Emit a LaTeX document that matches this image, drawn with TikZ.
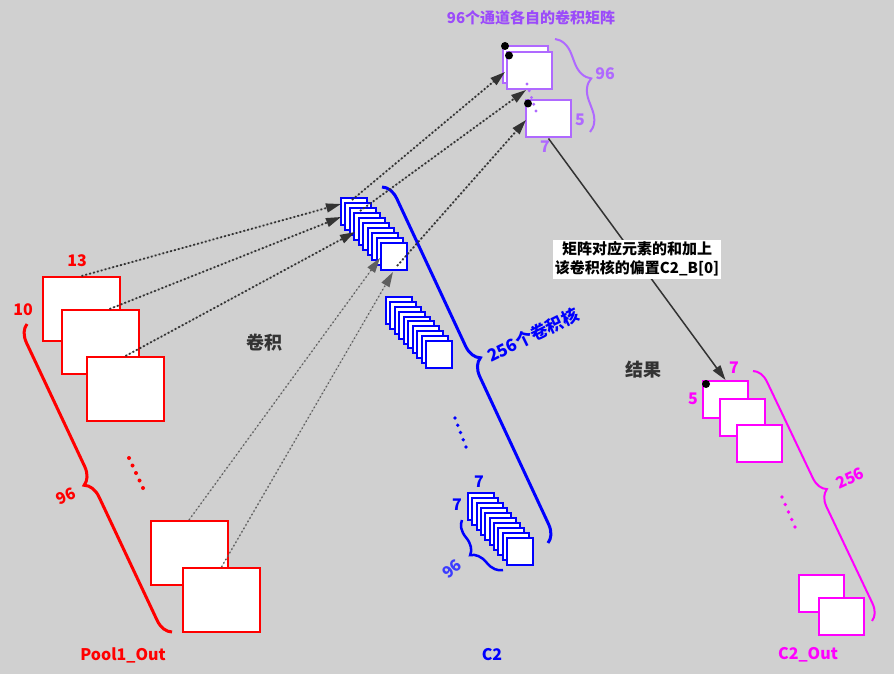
\documentclass[tikz,border=0pt]{standalone}
\usepackage{fontspec}
\setmainfont{Noto Sans CJK SC}
\usetikzlibrary{calc, arrows.meta, decorations.pathreplacing}
\usepackage{xcolor}
\definecolor{bgfill}{RGB}{208,208,208}
\definecolor{chanpurple}{RGB}{175,105,255}
\definecolor{titlepurple}{RGB}{155,75,250}
\definecolor{outmag}{RGB}{255,0,255}
\definecolor{linegray}{RGB}{51,51,51}
\definecolor{dotgray}{RGB}{95,95,95}

\begin{document}
\begin{tikzpicture}[x=1pt, y=-1pt, >={Triangle[length=15pt, width=9pt]}]
				\tikzstyle{mapred} = [draw=red, line width=2pt, fill=white, inner sep=0pt, minimum width=77pt, minimum height=64pt]
				\tikzstyle{kernel} = [draw=blue, line width=2pt, fill=white, inner sep=0pt, minimum width=26pt, minimum height=27pt]
				\tikzstyle{chanmat} = [draw=chanpurple, line width=2pt, fill=white, inner sep=0pt, minimum width=45pt, minimum height=37pt]
				\tikzstyle{outmat} = [draw=outmag, line width=2pt, fill=white, inner sep=0pt, minimum width=45pt, minimum height=37pt]
				\tikzstyle{invis} = [draw=none, inner sep=0pt, font=\fontsize{16}{18}\selectfont\bfseries]
				\tikzstyle{bigtxt} = [draw=none, inner sep=0pt, text=linegray, font=\fontsize{18}{20}\selectfont\bfseries]
				\tikzstyle{dotdark} = [->, draw=linegray, fill=linegray, line width=1.8pt, dash pattern=on 1.8pt off 2.2pt]
				\tikzstyle{dotlight} = [->, draw=dotgray, fill=dotgray, line width=1.4pt, dash pattern=on 1.4pt off 2.6pt]
				\tikzstyle{curly} = [decorate, decoration={brace, amplitude=17pt}]
				
				\useasboundingbox (0, 0) rectangle (894, 674);
				\fill[bgfill] (0, 0) rectangle (894, 674);
				
				% Pool1_Out
				\node[mapred] 			at (81.5, 309)		(p1) 	{};
				\node[mapred] 			at (100.5, 342)		(p2) 	{};
				\node[mapred] 			at (125.5, 389)		(p3) 	{};
				\node[mapred] 			at (189, 553)		(p4) 	{};
				\node[mapred] 			at (221.5, 600)		(p5) 	{};
				\node[invis, text=red]	at (77, 261)		(n13) 	{13};
				\node[invis, text=red]	at (23, 310)		(n10) 	{10};
				\node[invis, text=red, rotate=25]	at (66, 496)	(n96r)	{96};
				\node[invis, text=red]	at (123, 655)		(lpool)	{Pool1\_Out};
				\coordinate (rd1) at (129, 458);
				\coordinate (rd2) at (143, 488);
				\foreach \i in {0,...,4}
					\fill[red] ($(rd1)!\i/4!(rd2)$) circle (2pt);
				\coordinate (rb1) at (27, 324);
				\coordinate (rb2) at (172, 632);
				\draw[red, line width=3pt, curly] (rb2) -- (rb1);
				
				% C2 kernels
				\foreach \i in {0,...,9}
					\node[kernel] at (354+4.44*\i, 211.5+5*\i) (ka-\i) {};
				\foreach \i in {0,...,9}
					\node[kernel] at (399+4.44*\i, 310.5+4.89*\i) (kb-\i) {};
				\foreach \i in {0,...,9}
					\node[kernel] at (481+4.33*\i, 506.5+5*\i) (kc-\i) {};
				\coordinate (bd1) at (455, 418);
				\coordinate (bd2) at (466, 447);
				\foreach \i in {0,...,4}
					\fill[blue] ($(bd1)!\i/4!(bd2)$) circle (1.8pt);
				\node[invis, text=blue]	at (479, 482)		(n7a) 	{7};
				\node[invis, text=blue]	at (457, 505)		(n7b) 	{7};
				\node[invis, text={rgb,255:red,60;green,60;blue,255}, rotate=40]	at (452, 569)	(n96b)	{96};
				\node[invis, text=blue, font=\fontsize{17}{19}\selectfont\bfseries, rotate=26]	at (533, 335)	(n256b)	{256个卷积核};
				\node[invis, text=blue]	at (492, 655)		(lc2)	{C2};
				\coordinate (bb1) at (382, 187);
				\coordinate (bb2) at (548, 543);
				\draw[blue, line width=3pt, curly] (bb1) -- (bb2);
				\coordinate (bs1) at (462, 520);
				\coordinate (bs2) at (503, 570);
				\draw[blue, line width=2.5pt, curly, decoration={amplitude=16pt}] (bs2) -- (bs1);
				
				% channel matrices
				\node[chanmat] 			at (525.5, 64.5)	(m1) 	{};
				\node[chanmat] 			at (529.5, 71)		(m2) 	{};
				\node[chanmat] 			at (548.5, 119)		(m3) 	{};
				\coordinate (pd1) at (527, 84);
				\coordinate (pd2) at (536, 111);
				\foreach \i in {0,...,4}
					\fill[chanpurple] ($(pd1)!\i/4!(pd2)$) circle (1.6pt);
				\fill ([shift={(3, 1)}]m1.north west) circle (4pt);
				\fill ([shift={(3, 4)}]m2.north west) circle (4pt);
				\fill ([shift={(3, 4)}]m3.north west) circle (4pt);
				\node[invis, text=titlepurple, font=\fontsize{15}{17}\selectfont\bfseries]	at (531, 18)	(ltitle)	{96个通道各自的卷积矩阵};
				\node[invis, text=chanpurple]	at (605, 74)	(n96p)	{96};
				\node[invis, text=chanpurple]	at (580, 120)	(n5p)	{5};
				\node[invis, text=chanpurple]	at (545, 147)	(n7p)	{7};
				\coordinate (pb1) at (555, 39);
				\coordinate (pb2) at (590, 132);
				\draw[chanpurple, line width=2pt, curly, decoration={amplitude=20pt}] (pb1) -- (pb2);
				
				% C2_Out
				\node[outmat] 			at (725.5, 399.5)	(o1) 	{};
				\node[outmat] 			at (742.5, 417.5)	(o2) 	{};
				\node[outmat] 			at (759.5, 443.5)	(o3) 	{};
				\node[outmat] 			at (821.5, 593)		(o4) 	{};
				\node[outmat] 			at (841, 616)		(o5) 	{};
				\fill ([shift={(4, 4)}]o1.north west) circle (4pt);
				\node[invis, text=outmag]	at (734, 368)	(n7o)	{7};
				\node[invis, text=outmag]	at (693, 399)	(n5o)	{5};
				\node[invis, text=outmag, rotate=25]	at (850, 478)	(n256o)	{256};
				\node[invis, text=outmag]	at (808, 655)	(lout)	{C2\_Out};
				\coordinate (md1) at (782, 497);
				\coordinate (md2) at (795, 527);
				\foreach \i in {0,...,4}
					\fill[outmag] ($(md1)!\i/4!(md2)$) circle (1.8pt);
				\coordinate (ob1) at (753, 371);
				\coordinate (ob2) at (872, 621);
				\draw[outmag, line width=2pt, curly, decoration={amplitude=16pt}] (ob1) -- (ob2);
				
				\node[bigtxt]			at (264, 343)		(lconv)	{卷积};
				\node[bigtxt]			at (643, 370)		(lres)	{结果};
				
				% connectors
				\coordinate (t1) at (341, 204);
				\coordinate (t2) at (341, 217);
				\coordinate (t3) at (355, 232);
				\coordinate (t4) at (380, 258);
				\coordinate (t5) at (393, 272);
				\coordinate (s1) at (352, 200);
				\coordinate (s2) at (360, 211);
				\coordinate (s3) at (397, 266);
				\coordinate (u1) at (505, 72);
				\coordinate (u2) at (526, 90);
				\coordinate (u3) at (526, 120);
				
				\draw[dotdark] (p1.north) -- (t1);
				\draw[dotdark] ([xshift=9pt]p2.north) -- (t2);
				\draw[dotdark] (p3.north) -- (t3);
				\draw[dotdark] (s1) -- (u1);
				\draw[dotdark] (s2) -- (u2);
				\draw[dotdark] (s3) -- (u3);
				\draw[dotlight] (p4.north) -- (t4);
				\draw[dotlight] (p5.north) -- (t5);
				
				\draw[->, linegray, fill=linegray, line width=1.5pt] (m3.south) -- (o1.north)
					node[pos=0.5, fill=white, text=black, inner sep=2pt, align=center, font=\fontsize{15}{19}\selectfont\bfseries] (lsum) {矩阵对应元素的和加上\\该卷积核的偏置C2\_B[0]};
			\end{tikzpicture}
\end{document}
